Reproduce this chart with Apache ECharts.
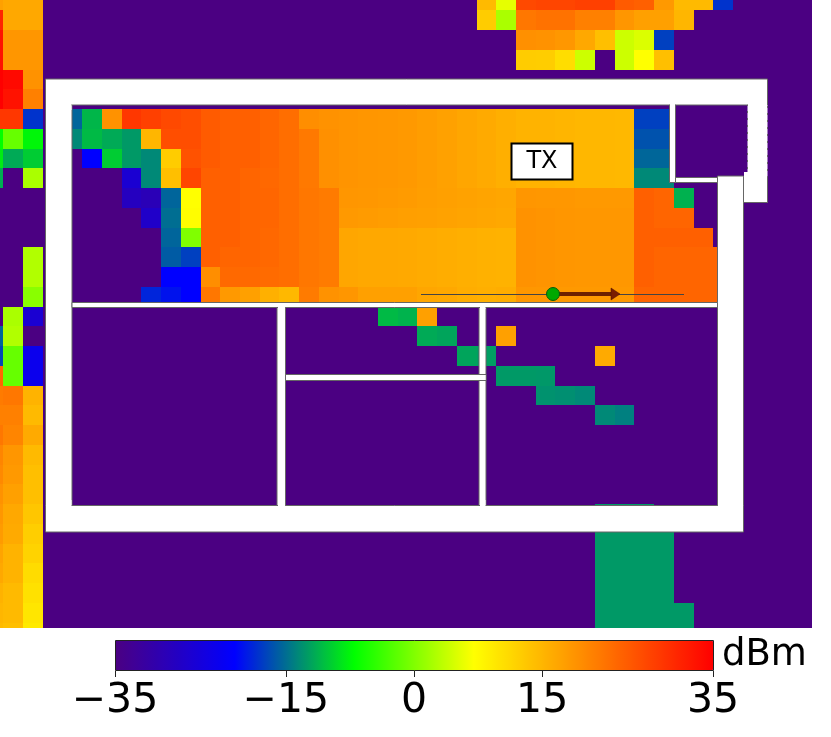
<!DOCTYPE html>
<html>
<head>
<meta charset="utf-8">
<style>html,body{margin:0;padding:0;background:#fff}#c{width:831px;height:737px}</style>
<script src="https://cdn.jsdelivr.net/npm/echarts@6/dist/echarts.min.js"></script>
</head>
<body>
<div id="c"></div>
<script>
const _ = -35;
const colorStops = ['#4b0082','#2500c0','#0000ff','#008080','#00ff00','#80ff00','#ffff00','#ffbf00','#ff8000','#ff4000','#ff0000'];
const colorbarTicks = [-35,-15,0,15,35];
const unit = 'dBm';
const txLabel = 'TX';
const columnCount = 42;
// received power per cell (dBm), top row first; omitted trailing cells are at the floor value
const row00 = [17.4,16.6,16.6,_,_,_,_,_,_,_,_,_,_,_,_,_,_,_,_,_,_,_,_,_,_,14.5,5.6,27,27.5,27.5,28,28,25,24.5,18.2,14.5,14.5,-18.2];
const row01 = [31,16.6,16.6,_,_,_,_,_,_,_,_,_,_,_,_,_,_,_,_,_,_,_,_,_,_,12.6,2.3,22,22.5,22.5,21,21,18.6,17.5,17.5,15];
const row02 = [33,18.6,18.6,_,_,_,_,_,_,_,_,_,_,_,_,_,_,_,_,_,_,_,_,_,_,_,_,19.2,19,18.5,16.5,14,4.2,5,-17.5];
const row03 = [33,18.6,18.6,_,_,_,_,_,_,_,_,_,_,_,_,_,_,_,_,_,_,_,_,_,_,_,_,12.6,12.5,10.7,4.2,_,4.2,7,14];
const row04 = [35,34,19];
const row05 = [35,33,21];
const row06 = [29,29,-18.2,_,-15.5,-11,19,29,28,27,26.5,25,24.5,24.5,23.8,23,19.5,19,18.8,18.6,18.5,18.2,17.8,17.3,16.8,16.3,15.8,15.3,15.3,15.1,14.9,14.9,14.8,-17.5,-17.5];
const row07 = [-7,-1.4,-7.5,_,-13.5,-10.8,-11.7,-12.6,15,26.5,26.5,25,24.5,24.5,23.8,23,21.8,19.2,18.8,18.6,18.5,18.2,17.8,17.3,16.8,16.3,15.8,15.3,15.3,15.1,14.9,14.9,14.8,-16.5,-16.5];
const row08 = [-8,-11.7,-9.8,_,_,-21,-9.8,-12.6,-13.5,12.6,26,25,24.5,24.5,23.8,23,21.8,19.2,18.8,18.6,18.5,18.2,17.8,17.3,16.8,16.3,15.8,15.3,15.3,15.1,14.9,14.9,14.8,-15.4,-15.4];
const row09 = [-11.5,_,2.3,_,_,_,_,-26,-13.5,14,27.5,24.5,24.5,24,23.6,23,21.8,19.2,18.8,18.6,18.5,18.2,17.8,17.3,16.8,16.3,15.8,15.3,15.3,15.1,14.9,14.9,14.8,-13.5,-13.5];
const row10 = [_,_,_,_,_,_,_,-28,-29,-15.5,7,24.5,24.5,24,23.8,23,22,21.5,18.6,18.4,18.2,18,17.7,17.5,17.2,17,16.8,18.6,18.4,18.4,18.2,18.2,18.2,24.5,24,-11.3];
const row11 = [_,_,_,_,_,_,_,_,-27,-15,7.2,24.5,24.5,24,23.8,23,22,21.5,18.2,18,17.8,17.6,17.4,17.2,17,16.8,16.6,19,18.8,18.6,18.4,18.4,18.4,24.5,24,24];
const row12 = [_,_,_,_,_,_,_,_,_,-15.5,0,24.5,24.5,24,23.6,23,22,21.5,16.8,16.6,16.5,16.4,16.2,16,15.8,15.6,15.4,19,18.8,18.6,18.4,18.4,18.4,24.5,24.5,24.5,24.5];
const row13 = [_,_,2.7,_,_,_,_,_,_,-16,-17.5,24.5,24,24,23.6,23,22,21.5,16.8,16.6,16.5,16.4,16.2,16,15.8,15.6,15.4,19,18.8,18.6,18.4,18.4,18.4,24.5,24,24,24,24];
const row14 = [_,_,2.7,_,_,_,_,_,_,-21,-21,19.5,23.5,23.5,23.3,23,22,21.5,16.8,16.6,16.5,16.4,16.2,16,15.8,15.6,15.4,19,18.8,18.6,18.4,18.4,18.4,24.5,24,24,24,24];
const row15 = [_,_,0.5,_,_,_,_,_,-19,-20,-21,22,18.2,17.4,15.7,14.8,21.5,19,18.6,17.5,17.5,17.4,16.8,16.5,16,15.8,16,18.4,18.4,18.2,18.2,18.2,18.2,24,24,24,24,24];
const row16 = [_,2.3,-26,_,_,_,_,_,_,_,_,_,_,_,_,_,_,_,_,_,-10.8,-11.2,17.5];
const row17 = [-15.5,2.7,_,_,_,_,_,_,_,_,_,_,_,_,_,_,_,_,_,_,_,_,-11.7,-12,_,_,17.4];
const row18 = [-17,-1.4,-23,_,_,_,_,_,_,_,_,_,_,_,_,_,_,_,_,_,_,_,_,_,-12,-12.4,_,_,_,_,_,16.3];
const row19 = [23.8,-1.4,-23,_,_,_,_,_,_,_,_,_,_,_,_,_,_,_,_,_,_,_,_,_,_,_,-12.6,-12.6,-12.7];
const row20 = [21.5,22,15.3,_,_,_,_,_,_,_,_,_,_,_,_,_,_,_,_,_,_,_,_,_,_,_,_,_,-13,-13.2,-13.5];
const row21 = [21,21,14.5,_,_,_,_,_,_,_,_,_,_,_,_,_,_,_,_,_,_,_,_,_,_,_,_,_,_,_,_,-13.5,-14];
const row22 = [22,20.5,16.3];
const row23 = [20.5,18.6,14.5];
const row24 = [20,18.2,14];
const row25 = [19,17.4,14];
const row26 = [18.5,16.5,13.2,_,_,_,_,_,_,_,_,_,_,_,_,_,_,_,_,_,_,_,_,_,_,_,_,_,_,_,_,-12.6,-12.6,-12.6];
const row27 = [18,16.3,12.4,_,_,_,_,_,_,_,_,_,_,_,_,_,_,_,_,_,_,_,_,_,_,_,_,_,_,_,_,-12.6,-12.6,-12.6,-12.6];
const row28 = [17,15.3,11.8,_,_,_,_,_,_,_,_,_,_,_,_,_,_,_,_,_,_,_,_,_,_,_,_,_,_,_,_,-12.6,-12.6,-12.6,-12.6];
const row29 = [16.5,15.3,10.8,_,_,_,_,_,_,_,_,_,_,_,_,_,_,_,_,_,_,_,_,_,_,_,_,_,_,_,_,-12.6,-12.6,-12.6,-12.6];
const row30 = [15.5,14.5,10.3,_,_,_,_,_,_,_,_,_,_,_,_,_,_,_,_,_,_,_,_,_,_,_,_,_,_,_,_,-12.6,-12.6,-12.6,-12.6];
const row31 = [15,14.5,9.7,_,_,_,_,_,_,_,_,_,_,_,_,_,_,_,_,_,_,_,_,_,_,_,_,_,_,_,_,-12.6,-12.6,-12.6,-12.6,-12.6];
const row32 = [14.5,14,9.3,_,_,_,_,_,_,_,_,_,_,_,_,_,_,_,_,_,_,_,_,_,_,_,_,_,_,_,_,-12.6,-12.6,-12.6,-12.6,-12.6];
const rows = [row00,row01,row02,row03,row04,row05,row06,row07,row08,row09,row10,row11,row12,row13,row14,row15,row16,row17,row18,row19,row20,row21,row22,row23,row24,row25,row26,row27,row28,row29,row30,row31,row32];

const cells = [];
rows.forEach((row, y) => {
  for (let x = 0; x < columnCount; x++) cells.push([x, y, row[x] === undefined ? _ : row[x]]);
});

const font = '"DejaVu Sans"';
const chart = echarts.init(document.getElementById('c'), null, {renderer: 'canvas'});

// The map is a crop of a larger raster: the axes show part of the first and last rows and columns.
const cellW = 19.72, cellH = 19.75;
const mapW = 812, mapH = 628;
const xStart = 16.4 / cellW, yStart = 9.5 / cellH;

function renderCell(params, api) {
  const a = api.coord([api.value(0), api.value(1)]);
  const b = api.coord([api.value(0) + 1, api.value(1) + 1]);
  const x0 = Math.round(a[0]), y0 = Math.round(a[1]);
  const x1 = Math.round(b[0]), y1 = Math.round(b[1]);
  const rect = echarts.graphic.clipRectByRect(
    {x: x0, y: y0, width: x1 - x0, height: y1 - y0},
    {x: params.coordSys.x, y: params.coordSys.y, width: params.coordSys.width, height: params.coordSys.height});
  return rect && {type: 'rect', shape: rect, style: {fill: api.visual('color')}};
}

function wall(x0, y0, x1, y1, dash) {
  return {type: 'rect', z: 20, shape: {x: x0, y: y0, width: x1 - x0, height: y1 - y0},
    style: {fill: '#fff', stroke: '#666', lineWidth: 1, lineDash: dash || null}, silent: true};
}
function cover(x0, y0, x1, y1) {
  return {type: 'rect', z: 21, shape: {x: x0, y: y0, width: x1 - x0, height: y1 - y0},
    style: {fill: '#fff'}, silent: true};
}
const floorPlan = [
  // outer walls
  wall(45.5, 79, 767.5, 105),
  wall(45.5, 105, 72, 505.5),
  wall(45.5, 505.5, 743.5, 532),
  wall(717.5, 176, 743.5, 505.5),
  wall(747.5, 105, 767.5, 176.5, [2, 5]),
  wall(743.5, 176.5, 767.5, 202.5),
  // inner walls
  wall(72, 302.5, 717.5, 307.5),
  wall(277, 307.5, 285.5, 505.5),
  wall(479, 307.5, 486, 505.5),
  wall(285.5, 374.5, 486, 380.5),
  wall(669.5, 105, 675.5, 182.5),
  wall(675.5, 177.5, 717.5, 182.5),
  // wall joints without a seam
  cover(46, 100, 71.5, 110), cover(46, 500, 71.5, 510), cover(718, 500, 743, 510),
  cover(748, 100, 767, 110), cover(744, 172, 767, 180), cover(718, 177, 743, 183),
  cover(278, 303, 285, 309), cover(480, 303, 485.5, 309), cover(278, 500, 285, 507), cover(480, 500, 485.5, 507),
  cover(670, 101, 675, 107), cover(670, 177.5, 675, 182), cover(480, 375, 485.5, 380),
  // TX box
  {type: 'rect', z: 22, shape: {x: 511.5, y: 143.5, width: 61, height: 36}, style: {fill: '#fff', stroke: '#000', lineWidth: 2}, silent: true},
  {type: 'text', z: 23, style: {x: 542, y: 162, text: txLabel, fill: '#000', font: '24px ' + font, align: 'center', verticalAlign: 'middle'}, silent: true},
  // receiver line and arrow
  {type: 'line', z: 22, shape: {x1: 421, y1: 294.5, x2: 684, y2: 294.5}, style: {stroke: '#444', lineWidth: 1}, silent: true},
  {type: 'line', z: 23, shape: {x1: 553, y1: 294, x2: 613, y2: 294}, style: {stroke: '#6e2000', lineWidth: 4}, silent: true},
  {type: 'polygon', z: 23, shape: {points: [[611, 288], [620, 294], [611, 300]]}, style: {fill: '#7a1c00', stroke: '#4a1000', lineWidth: 0.5}, silent: true},
  {type: 'circle', z: 24, shape: {cx: 553, cy: 294, r: 6.5}, style: {fill: '#00a800', stroke: '#0a5a0a', lineWidth: 1}, silent: true},
  // colorbar frame and unit
  {type: 'rect', z: 30, shape: {x: 115.5, y: 640.5, width: 598, height: 30}, style: {fill: 'none', stroke: '#222', lineWidth: 1}, silent: true},
  {type: 'text', z: 30, style: {x: 722, y: 655, text: unit, fill: '#000', font: '37px ' + font, align: 'left', verticalAlign: 'middle'}, silent: true}
];

chart.setOption({
  animation: false,
  backgroundColor: '#fff',
  grid: [
    {left: 0, top: 0, width: mapW, height: mapH},
    {left: 115, top: 640, width: 598, height: 31}
  ],
  xAxis: [
    {type: 'value', gridIndex: 0, show: false, min: xStart, max: xStart + mapW / cellW},
    {type: 'value', gridIndex: 1, min: -35, max: 35, position: 'bottom',
      axisLine: {show: false},
      splitLine: {show: false},
      axisTick: {show: true, length: 6, lineStyle: {color: '#222'}, customValues: colorbarTicks},
      axisLabel: {show: true, fontFamily: 'DejaVu Sans', fontSize: 41, color: '#000', margin: 10,
        customValues: colorbarTicks, hideOverlap: false, showMinLabel: true, showMaxLabel: true,
        formatter: v => String(v).replace('-', '\u2212')}}
  ],
  yAxis: [
    {type: 'value', gridIndex: 0, show: false, inverse: true, min: yStart, max: yStart + mapH / cellH},
    {type: 'value', gridIndex: 1, show: false}
  ],
  visualMap: {
    type: 'continuous', seriesIndex: 0, dimension: 2, min: -35, max: 35, orient: 'horizontal',
    left: 115, top: 640, padding: 0, itemWidth: 31, itemHeight: 598,
    calculable: false, realtime: false, text: null, showLabel: false,
    inRange: {color: colorStops}, outOfRange: {color: colorStops[0]}
  },
  series: [{
    type: 'custom', xAxisIndex: 0, yAxisIndex: 0, data: cells, renderItem: renderCell,
    encode: {x: 0, y: 1}, progressive: 0, silent: true
  }],
  graphic: {elements: floorPlan}
});
</script>
</body>
</html>
